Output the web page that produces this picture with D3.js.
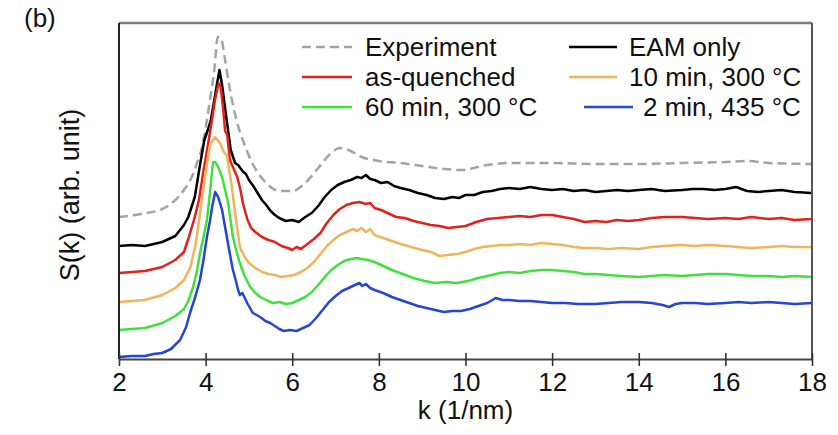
<!DOCTYPE html>
<html>
<head>
<meta charset="utf-8">
<script src="https://cdn.jsdelivr.net/npm/d3@7"></script>
<style>
  html, body { margin: 0; padding: 0; background: #fff; }
  svg { display: block; font-family: "Liberation Sans", Arial, Helvetica, sans-serif; }
</style>
</head>
<body>
<svg id="chart" width="838" height="435"></svg>
<script>
// Structure factor S(k), curves shifted vertically (arb. units); pairs are [k (1/nm), S]
const xTicks = [2, 4, 6, 8, 10, 12, 14, 16, 18];

const experiment = [[2.0,1.42],[2.5,1.45],[3.0,1.50],[3.3,1.59],[3.5,1.69],[3.7,1.84],[3.8,1.96],[3.9,2.09],[4.0,2.31],[4.1,2.59],[4.2,2.89],[4.28,3.22],[4.35,3.21],[4.45,2.99],[4.55,2.72],[4.7,2.41],[4.9,2.14],[5.1,1.94],[5.4,1.76],[5.7,1.68],[6.0,1.68],[6.3,1.76],[6.6,1.91],[6.9,2.06],[7.1,2.11],[7.3,2.09],[7.6,2.02],[8.0,1.98],[8.5,1.96],[9.0,1.93],[9.5,1.90],[9.9,1.89],[10.5,1.94],[11.0,1.96],[12.0,1.96],[13.0,1.95],[14.0,1.95],[15.0,1.96],[16.0,1.97],[16.5,1.98],[17.0,1.96],[18.0,1.95]];

const eamOnly = [[2.0,1.13],[2.3,1.14],[2.6,1.13],[3.0,1.17],[3.3,1.23],[3.5,1.34],[3.6,1.42],[3.75,1.62],[3.87,1.94],[3.97,2.19],[4.05,2.29],[4.12,2.39],[4.2,2.59],[4.27,2.77],[4.32,2.89],[4.38,2.74],[4.47,2.44],[4.58,2.09],[4.68,1.96],[4.75,1.94],[4.85,1.88],[4.93,1.85],[5.0,1.79],[5.1,1.73],[5.2,1.66],[5.3,1.59],[5.4,1.54],[5.5,1.48],[5.6,1.44],[5.7,1.41],[5.85,1.38],[6.0,1.39],[6.15,1.37],[6.3,1.42],[6.45,1.46],[6.6,1.53],[6.75,1.62],[6.9,1.69],[7.05,1.74],[7.2,1.77],[7.35,1.79],[7.5,1.82],[7.6,1.81],[7.7,1.84],[7.8,1.80],[7.9,1.79],[8.05,1.76],[8.2,1.77],[8.35,1.73],[8.5,1.71],[8.7,1.69],[8.9,1.66],[9.1,1.64],[9.3,1.61],[9.5,1.60],[9.7,1.62],[9.85,1.61],[10.0,1.64],[10.2,1.64],[10.4,1.67],[10.6,1.68],[10.8,1.70],[11.0,1.71],[11.25,1.70],[11.5,1.72],[11.75,1.70],[12.0,1.69],[12.25,1.70],[12.5,1.68],[12.75,1.69],[13.0,1.67],[13.25,1.68],[13.5,1.69],[13.75,1.68],[14.0,1.69],[14.3,1.70],[14.6,1.68],[15.0,1.69],[15.25,1.70],[15.5,1.70],[15.75,1.69],[16.0,1.70],[16.25,1.72],[16.5,1.68],[16.75,1.67],[17.0,1.68],[17.3,1.69],[17.6,1.67],[18.0,1.66]];

const asQuenched = [[2.0,0.86],[2.3,0.87],[2.6,0.88],[3.0,0.92],[3.3,0.99],[3.5,1.07],[3.6,1.20],[3.75,1.42],[3.85,1.60],[3.95,1.88],[4.05,2.13],[4.15,2.40],[4.22,2.60],[4.3,2.76],[4.35,2.72],[4.4,2.52],[4.45,2.28],[4.5,2.24],[4.56,1.99],[4.65,1.90],[4.73,1.82],[4.8,1.70],[4.86,1.56],[4.96,1.40],[5.05,1.31],[5.15,1.27],[5.3,1.22],[5.45,1.19],[5.6,1.17],[5.75,1.13],[5.9,1.11],[6.0,1.09],[6.1,1.12],[6.2,1.10],[6.35,1.15],[6.5,1.20],[6.65,1.26],[6.8,1.36],[6.95,1.44],[7.1,1.50],[7.25,1.54],[7.4,1.56],[7.55,1.57],[7.7,1.55],[7.8,1.56],[7.9,1.51],[8.05,1.49],[8.2,1.46],[8.4,1.42],[8.6,1.41],[8.8,1.38],[9.0,1.36],[9.2,1.34],[9.4,1.33],[9.6,1.31],[9.8,1.32],[10.0,1.33],[10.25,1.37],[10.5,1.40],[10.75,1.41],[11.0,1.42],[11.25,1.43],[11.5,1.42],[11.75,1.44],[12.0,1.44],[12.25,1.42],[12.5,1.40],[12.75,1.37],[13.0,1.38],[13.25,1.37],[13.5,1.39],[13.75,1.38],[14.0,1.39],[14.3,1.41],[14.6,1.42],[15.0,1.42],[15.3,1.41],[15.6,1.40],[16.0,1.41],[16.3,1.40],[16.6,1.42],[17.0,1.40],[17.3,1.41],[17.6,1.39],[18.0,1.40]];

const anneal10min300 = [[2.0,0.57],[2.3,0.58],[2.6,0.59],[3.0,0.64],[3.3,0.71],[3.5,0.79],[3.65,0.92],[3.77,1.15],[3.87,1.45],[3.99,1.84],[4.1,2.14],[4.22,2.22],[4.33,2.16],[4.42,2.07],[4.49,2.04],[4.6,1.74],[4.68,1.46],[4.79,1.12],[4.9,1.02],[5.0,0.96],[5.15,0.91],[5.3,0.87],[5.45,0.85],[5.6,0.84],[5.75,0.82],[5.9,0.83],[6.05,0.84],[6.2,0.87],[6.35,0.91],[6.5,0.97],[6.65,1.05],[6.8,1.13],[6.95,1.19],[7.1,1.24],[7.25,1.27],[7.4,1.30],[7.5,1.28],[7.6,1.31],[7.7,1.27],[7.8,1.30],[7.9,1.24],[8.1,1.21],[8.3,1.18],[8.5,1.15],[8.75,1.12],[9.0,1.09],[9.2,1.07],[9.4,1.03],[9.6,1.04],[9.8,1.05],[10.0,1.07],[10.2,1.10],[10.4,1.12],[10.6,1.13],[10.8,1.14],[11.0,1.14],[11.25,1.15],[11.5,1.14],[11.75,1.16],[12.0,1.15],[12.25,1.14],[12.5,1.12],[12.75,1.11],[13.0,1.11],[13.3,1.10],[13.6,1.11],[14.0,1.10],[14.3,1.12],[14.6,1.13],[15.0,1.14],[15.3,1.13],[15.6,1.14],[16.0,1.13],[16.3,1.12],[16.6,1.11],[17.0,1.12],[17.3,1.13],[17.6,1.12],[18.0,1.12]];

const anneal60min300 = [[2.0,0.29],[2.3,0.30],[2.6,0.31],[3.0,0.36],[3.3,0.43],[3.5,0.50],[3.6,0.58],[3.71,0.72],[3.8,0.88],[3.87,1.06],[3.95,1.22],[4.03,1.39],[4.1,1.66],[4.17,1.97],[4.22,1.97],[4.29,1.92],[4.38,1.82],[4.45,1.69],[4.52,1.56],[4.63,1.22],[4.71,1.08],[4.79,0.96],[4.9,0.83],[5.03,0.72],[5.15,0.66],[5.26,0.62],[5.4,0.59],[5.55,0.56],[5.7,0.57],[5.85,0.55],[6.0,0.56],[6.15,0.59],[6.3,0.62],[6.45,0.67],[6.6,0.74],[6.75,0.82],[6.9,0.89],[7.05,0.94],[7.2,0.98],[7.35,1.00],[7.5,1.01],[7.6,1.00],[7.75,0.99],[7.9,0.97],[8.1,0.93],[8.3,0.89],[8.55,0.85],[8.8,0.81],[9.05,0.78],[9.3,0.76],[9.55,0.77],[9.8,0.76],[10.05,0.78],[10.3,0.81],[10.6,0.84],[10.8,0.86],[11.0,0.87],[11.25,0.86],[11.5,0.88],[11.75,0.89],[12.0,0.89],[12.25,0.88],[12.5,0.87],[12.75,0.85],[13.0,0.85],[13.3,0.84],[13.6,0.83],[14.0,0.82],[14.3,0.83],[14.6,0.84],[15.0,0.83],[15.3,0.84],[15.6,0.85],[16.0,0.85],[16.3,0.84],[16.6,0.83],[17.0,0.83],[17.3,0.82],[17.6,0.83],[18.0,0.82]];

const anneal2min435 = [[2.0,0.02],[2.3,0.03],[2.6,0.03],[2.8,0.05],[3.0,0.06],[3.2,0.10],[3.41,0.19],[3.55,0.32],[3.64,0.46],[3.76,0.62],[3.87,0.79],[3.95,0.99],[4.03,1.22],[4.1,1.38],[4.15,1.52],[4.22,1.67],[4.29,1.62],[4.38,1.49],[4.49,1.22],[4.56,1.05],[4.63,0.89],[4.7,0.78],[4.75,0.69],[4.79,0.64],[4.85,0.66],[4.96,0.56],[5.09,0.46],[5.18,0.44],[5.26,0.42],[5.38,0.38],[5.49,0.36],[5.6,0.33],[5.7,0.30],[5.8,0.28],[5.95,0.29],[6.1,0.28],[6.25,0.31],[6.4,0.34],[6.55,0.41],[6.7,0.49],[6.85,0.57],[7.0,0.63],[7.15,0.68],[7.3,0.71],[7.45,0.74],[7.55,0.76],[7.62,0.73],[7.7,0.75],[7.8,0.71],[7.9,0.69],[8.1,0.66],[8.3,0.62],[8.5,0.59],[8.7,0.56],[8.9,0.53],[9.1,0.51],[9.3,0.49],[9.5,0.47],[9.7,0.48],[9.9,0.48],[10.1,0.50],[10.3,0.53],[10.5,0.56],[10.7,0.61],[10.85,0.59],[11.0,0.59],[11.25,0.58],[11.5,0.58],[11.75,0.57],[12.0,0.56],[12.3,0.56],[12.6,0.55],[13.0,0.55],[13.3,0.56],[13.6,0.57],[14.0,0.57],[14.3,0.56],[14.55,0.54],[14.7,0.52],[14.85,0.55],[15.0,0.56],[15.3,0.56],[15.6,0.55],[16.0,0.56],[16.3,0.57],[16.6,0.56],[17.0,0.57],[17.3,0.56],[17.6,0.55],[18.0,0.56]];

const seriesLabels = ["Experiment", "EAM only", "as-quenched", "10 min, 300 °C", "60 min, 300 °C", "2 min, 435 °C"];
const seriesData = [experiment, eamOnly, asQuenched, anneal10min300, anneal60min300, anneal2min435];

// Styling and layout
const styles = [
  { color: "#a3a3a3", dash: "9,5", curve: d3.curveMonotoneX },
  { color: "#000000", dash: null, curve: d3.curveLinear },
  { color: "#e3211c", dash: null, curve: d3.curveLinear },
  { color: "#f2b45a", dash: null, curve: d3.curveLinear },
  { color: "#3fe23c", dash: null, curve: d3.curveLinear },
  { color: "#2445d6", dash: null, curve: d3.curveLinear }
];
// legend slots: [line x0, line x1, text x, row y]
const legendSlots = [
  [302, 352, 365, 47], [569, 617, 629, 47],
  [302, 352, 365, 77], [569, 617, 629, 77],
  [302, 352, 365, 107], [584, 633, 643, 107]
];

const W = 838, H = 435;
const margin = { top: 23, right: 26, bottom: 76, left: 119 };
const FONT = 26;

const svg = d3.select("#chart");
const x = d3.scaleLinear().domain([2, 18]).range([margin.left, W - margin.right]);
const y = d3.scaleLinear().domain([0, 3.36]).range([H - margin.bottom, margin.top]);

// Curves
const g = svg.append("g");
seriesData.forEach((data, i) => {
  const st = styles[i];
  const line = d3.line().x(d => x(d[0])).y(d => y(d[1])).curve(st.curve);
  g.append("path")
    .datum(data)
    .attr("d", line)
    .attr("fill", "none")
    .attr("stroke", st.color)
    .attr("stroke-width", i === 0 ? 2.5 : 2.5)
    .attr("stroke-linejoin", "round")
    .attr("stroke-dasharray", st.dash);
});

// Frame (top and right)
svg.append("line")
  .attr("x1", x(2)).attr("x2", x(18)).attr("y1", y(3.36)).attr("y2", y(3.36))
  .attr("stroke", "#7a7a7a").attr("stroke-width", 2.5);
svg.append("line")
  .attr("x1", x(18)).attr("x2", x(18)).attr("y1", y(3.36)).attr("y2", y(0))
  .attr("stroke", "#555").attr("stroke-width", 2);
// Left spine
svg.append("line")
  .attr("x1", x(2)).attr("x2", x(2)).attr("y1", y(3.36)).attr("y2", y(0))
  .attr("stroke", "#222").attr("stroke-width", 2);

// Bottom axis with ticks crossing the axis line
const xAxis = d3.axisBottom(x).tickValues(xTicks).tickFormat(d3.format("d"))
  .tickSizeInner(7).tickSizeOuter(0).tickPadding(7);
const ax = svg.append("g")
  .attr("transform", `translate(0,${y(0)})`)
  .call(xAxis);
ax.select(".domain").attr("stroke", "#444").attr("stroke-width", 2);
ax.selectAll(".tick line").attr("y1", -6).attr("y2", 7).attr("stroke", "#333").attr("stroke-width", 1.6);
ax.selectAll(".tick text")
  .attr("font-size", FONT).attr("fill", "#111")
  .attr("font-family", "'Liberation Sans', Arial, Helvetica, sans-serif");

// Axis titles
svg.append("text")
  .attr("x", (x(2) + x(18)) / 2).attr("y", 419)
  .attr("text-anchor", "middle").attr("font-size", FONT).attr("fill", "#111")
  .text("k (1/nm)");
svg.append("text")
  .attr("transform", `translate(79,${(y(0) + y(3.36)) / 2 + 4}) rotate(-90)`)
  .attr("text-anchor", "middle").attr("font-size", 27).attr("fill", "#111")
  .text("S(k) (arb. unit)");

// Panel label
svg.append("text")
  .attr("x", 24).attr("y", 27)
  .attr("font-size", FONT).attr("fill", "#111")
  .text("(b)");

// Legend
const leg = svg.append("g");
seriesLabels.forEach((label, i) => {
  const [lx0, lx1, tx, ty] = legendSlots[i];
  const st = styles[i];
  leg.append("line")
    .attr("x1", lx0).attr("x2", lx1).attr("y1", ty).attr("y2", ty)
    .attr("stroke", st.color).attr("stroke-width", 2.5)
    .attr("stroke-dasharray", st.dash);
  leg.append("text")
    .attr("x", tx).attr("y", ty)
    .attr("dy", "0.36em")
    .attr("font-size", FONT).attr("fill", "#111")
    .text(label);
});
</script>
</body>
</html>
